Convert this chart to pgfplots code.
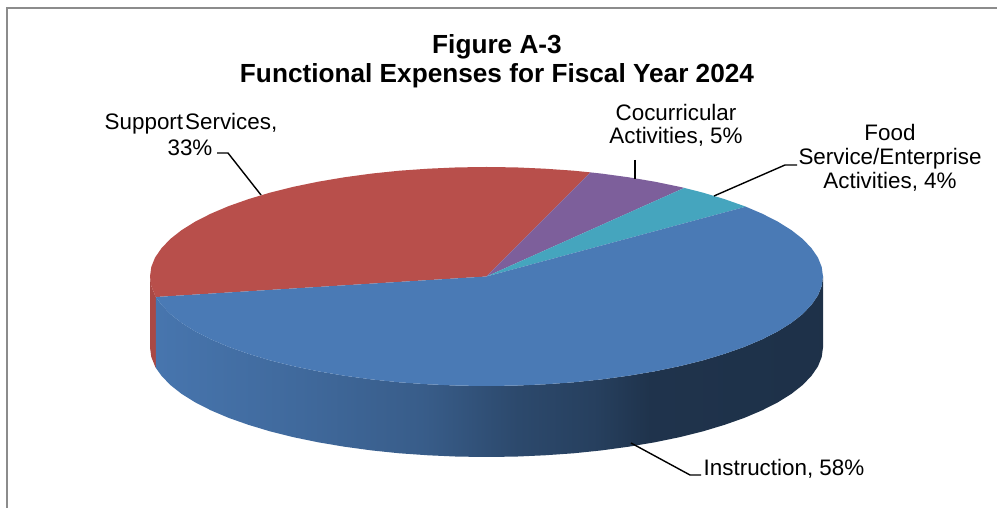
\documentclass[border=0pt]{standalone}
\usepackage{fontspec}
\setmainfont{Liberation Sans}
\usepackage{pgfplots}
\pgfplotsset{compat=1.18}
\definecolor{instr}{HTML}{4A7AB5}
\definecolor{supp}{HTML}{B84F4B}
\definecolor{cocur}{HTML}{7D5F9B}
\definecolor{food}{HTML}{45A5BE}
\definecolor{framegray}{HTML}{8C8C8C}
% Rim of the Instruction slice: light at the left, dark from about two thirds along.
% The path fills the 25bp..75bp band of the shading.
\pgfdeclarehorizontalshading{instrwall}{100bp}{%
  color(0bp)=(instr!96!black);
  color(25bp)=(instr!96!black);
  color(36bp)=(instr!86!black);
  color(45bp)=(instr!76!black);
  color(52bp)=(instr!60!black);
  color(58bp)=(instr!52!black);
  color(62bp)=(instr!42!black);
  color(75bp)=(instr!40!black);
  color(100bp)=(instr!40!black)}
\newcommand{\lab}[3]{\node[anchor=base,font=\fontsize{22.4}{24}\selectfont,inner sep=0pt] at (axis cs:#1,#2) {#3};}
\newcommand{\ttl}[3]{\node[anchor=base,font=\fontsize{26.2}{28}\selectfont\bfseries,inner sep=0pt] at (axis cs:#1,#2) {#3};}
\begin{document}
\begin{tikzpicture}[x=1pt,y=1pt]
\useasboundingbox (0,0) rectangle (997,508);
\begin{axis}[
  at={(0,0)}, anchor=south west,
  width=997pt, height=508pt, scale only axis,
  xmin=0, xmax=997, ymin=0, ymax=508,
  hide axis, clip=false,
]
% chart frame: left and top edges only
\addplot[framegray, line width=1.6pt] coordinates {(7,0) (7,500) (997,500)};

% rim of Support Services, visible as a sliver at the far left
\addplot[draw=none, fill=supp!92!black] coordinates {
  (150,231.5) (151.3,222) (155.1,212.5) (155.9,211)
  (155.9,140) (155.1,141.5) (151.3,151) (150,160.5)} --cycle;

% rim of Instruction
\addplot[draw=none, shading=instrwall] coordinates {
  (155.9,211) (161.5,203.2) (170.3,194) (181.5,185.2) (195.1,176.7) (210.8,168.7)
  (228.7,161.1) (248.6,154.1) (270.2,147.6) (293.5,141.8) (318.2,136.7) (344.3,132.3)
  (371.4,128.6) (399.4,125.7) (428.1,123.7) (457.2,122.4) (486.5,122)
  (515.8,122.4) (544.9,123.7) (573.6,125.7) (601.6,128.6) (628.7,132.3) (654.8,136.7)
  (679.5,141.8) (702.8,147.6) (724.4,154.1) (744.3,161.1) (762.2,168.7) (777.9,176.7)
  (791.5,185.2) (802.7,194) (811.5,203.2) (817.9,212.5) (821.7,222) (823,231.5)
  (823,160.5) (821.7,151) (817.9,141.5) (811.5,132.2) (802.7,123) (791.5,114.2)
  (777.9,105.7) (762.2,97.7) (744.3,90.1) (724.4,83.1) (702.8,76.6) (679.5,70.8)
  (654.8,65.7) (628.7,61.3) (601.6,57.6) (573.6,54.7) (544.9,52.7) (515.8,51.4)
  (486.5,51) (457.2,51.4) (428.1,52.7) (399.4,54.7) (371.4,57.6) (344.3,61.3)
  (318.2,65.7) (293.5,70.8) (270.2,76.6) (248.6,83.1) (228.7,90.1) (210.8,97.7)
  (195.1,105.7) (181.5,114.2) (170.3,123) (161.5,132.2) (155.9,140)} --cycle;

% top face, Support Services (33%)
\addplot[draw=none, fill=supp] coordinates {
  (486.5,231.5) (155.9,211) (155.1,212.5) (151.3,222) (150,231.5) (151.3,241)
  (155.1,250.5) (161.5,259.8) (170.3,269) (181.5,277.8) (195.1,286.3) (210.8,294.3)
  (228.7,301.9) (248.6,308.9) (270.2,315.4) (293.5,321.2) (318.2,326.3) (344.3,330.7)
  (371.4,334.4) (399.4,337.3) (428.1,339.3) (457.2,340.6) (486.5,341) (515.8,340.6)
  (544.9,339.3) (573.6,337.3) (590.5,335.6)} --cycle;

% top face, Cocurricular Activities (5%)
\addplot[draw=none, fill=cocur] coordinates {
  (486.5,231.5) (590.5,335.6) (601.6,334.4) (628.7,330.7) (654.8,326.3) (679.5,321.2)
  (684.3,320.1)} --cycle;

% top face, Food Service/Enterprise Activities (4%)
\addplot[draw=none, fill=food] coordinates {
  (486.5,231.5) (684.3,320.1) (702.8,315.4) (724.4,308.9) (744.3,301.9) (745.8,301.3)} --cycle;

% top face, Instruction (58%)
\addplot[draw=none, fill=instr] coordinates {
  (486.5,231.5) (745.8,301.3) (762.2,294.3) (777.9,286.3) (791.5,277.8) (802.7,269)
  (811.5,259.8) (817.9,250.5) (821.7,241) (823,231.5) (821.7,222) (817.9,212.5)
  (811.5,203.2) (802.7,194) (791.5,185.2) (777.9,176.7) (762.2,168.7) (744.3,161.1)
  (724.4,154.1) (702.8,147.6) (679.5,141.8) (654.8,136.7) (628.7,132.3) (601.6,128.6)
  (573.6,125.7) (544.9,123.7) (515.8,122.4) (486.5,122) (457.2,122.4) (428.1,123.7)
  (399.4,125.7) (371.4,128.6) (344.3,132.3) (318.2,136.7) (293.5,141.8) (270.2,147.6)
  (248.6,154.1) (228.7,161.1) (210.8,168.7) (195.1,176.7) (181.5,185.2) (170.3,194)
  (161.5,203.2) (155.9,211)} --cycle;

% leader lines
\addplot[black, line width=1.4pt] coordinates {(217,355) (228,355) (261,313)};
\addplot[black, line width=1.4pt] coordinates {(635,348) (635,329)};
\addplot[black, line width=1.4pt] coordinates {(797,343) (785,343) (714,312)};
\addplot[black, line width=1.4pt] coordinates {(631,65) (690,33) (701,33)};

% titles
\ttl{497}{454}{Figure A-3}
\ttl{497}{425}{Functional Expenses for Fiscal Year 2024}

% data labels
\lab{191}{378}{{\spaceskip=2pt Support Services,}}
\lab{190}{352}{33\%}
\lab{676}{387}{Cocurricular}
\lab{676}{364}{Activities, 5\%}
\lab{890}{367}{Food}
\lab{890}{343}{Service/Enterprise}
\lab{890}{319}{Activities, 4\%}
\lab{784}{32}{Instruction, 58\%}
\end{axis}
\end{tikzpicture}
\end{document}
